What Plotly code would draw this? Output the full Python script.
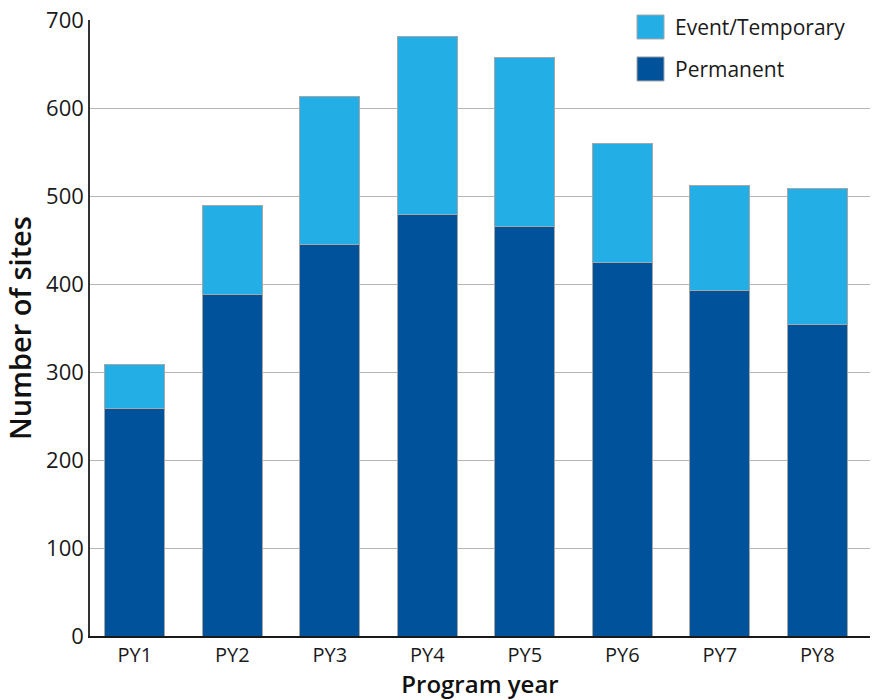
import plotly.graph_objects as go

categories = ["PY1", "PY2", "PY3", "PY4", "PY5", "PY6", "PY7", "PY8"]
permanent = [258, 388, 445, 479, 465, 424, 393, 354]
totals = [309, 489, 613, 681, 657, 560, 512, 508]
event_temporary = [t - p for t, p in zip(totals, permanent)]
series_names = ["Event/Temporary", "Permanent"]
y_ticks = [0, 100, 200, 300, 400, 500, 600, 700]

C_PERM = "#00529B"
C_EVENT = "#23AEE5"
C_EDGE = "#A6A6A6"
FONT = "Open Sans"

fig = go.Figure()
fig.add_trace(go.Bar(x=categories, y=permanent, name=series_names[1],
                     marker=dict(color=C_PERM, line=dict(color=C_EDGE, width=1))))
fig.add_trace(go.Bar(x=categories, y=event_temporary, name=series_names[0],
                     marker=dict(color=C_EVENT, line=dict(color=C_EDGE, width=1))))

# custom legend
shapes = [
    dict(type="rect", xref="paper", yref="paper", x0=0.634, x1=1.02, y0=0.87, y1=1.05,
         fillcolor="white", line=dict(width=0), layer="above"),
    dict(type="rect", xref="paper", yref="paper", x0=0.7013, x1=0.7359, y0=0.9692, y1=1.0081,
         fillcolor=C_EVENT, line=dict(color=C_EDGE, width=1), layer="above"),
    dict(type="rect", xref="paper", yref="paper", x0=0.7013, x1=0.7359, y0=0.901, y1=0.940,
         fillcolor=C_PERM, line=dict(color=C_EDGE, width=1), layer="above"),
]
annotations = [
    dict(text=series_names[0], xref="paper", yref="paper", x=0.7474, y=0.988,
         xanchor="left", yanchor="middle", showarrow=False,
         font=dict(family=FONT, size=21, color="#1a1a1a")),
    dict(text=series_names[1], xref="paper", yref="paper", x=0.7474, y=0.920,
         xanchor="left", yanchor="middle", showarrow=False,
         font=dict(family=FONT, size=21, color="#1a1a1a")),
]

fig.update_layout(
    barmode="stack",
    bargap=0.385,
    width=873, height=700,
    margin=dict(l=90, r=3, t=20, b=64, autoexpand=False),
    plot_bgcolor="white", paper_bgcolor="white",
    showlegend=False,
    font=dict(family=FONT, size=22, color="#1a1a1a"),
    shapes=shapes,
    annotations=annotations,
    xaxis=dict(
        range=[-0.46, 7.54],
        showline=True, linecolor="#1a1a1a", linewidth=1.5,
        showgrid=False, ticks="", ticklabelstandoff=0,
        tickfont=dict(family=FONT, size=20, color="#1a1a1a"),
        title=dict(text="Program year", standoff=10,
                   font=dict(family=FONT, size=24, color="#111111", weight=600)),
    ),
    yaxis=dict(
        range=[0, 700], tickvals=y_ticks,
        showline=True, linecolor="#333333", linewidth=1.5,
        showgrid=True, gridcolor="#B4B4B4", gridwidth=1,
        zeroline=False, ticks="", ticklabelstandoff=0,
        tickfont=dict(family=FONT, size=22, color="#1a1a1a"),
        title=dict(text="Number of sites", standoff=6,
                   font=dict(family=FONT, size=29, color="#111111", weight=600)),
    ),
)

fig.write_html("out.html", config={"displayModeBar": False},
               post_script="document.body.style.margin='0';document.body.style.overflow='hidden';")
